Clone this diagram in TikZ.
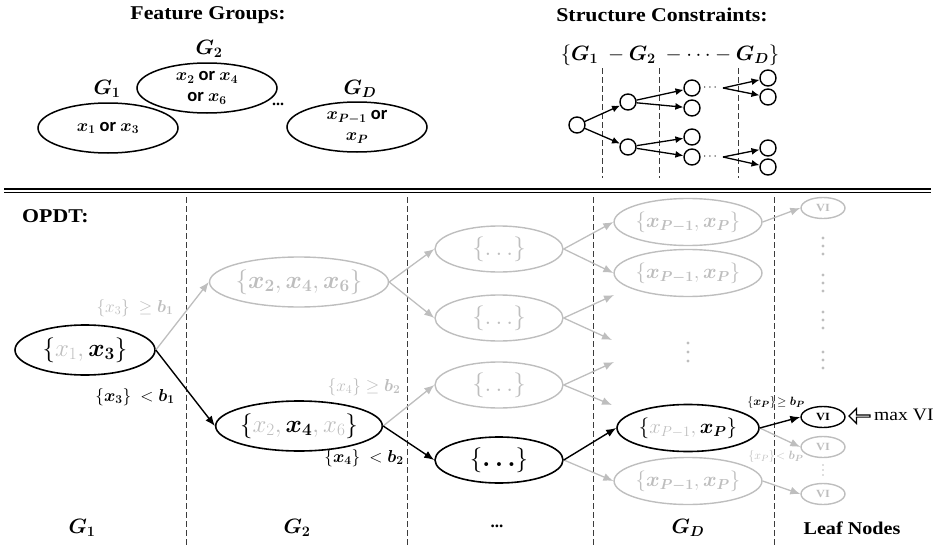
\documentclass[tikz,border=0pt]{standalone}
\usepackage[no-math]{fontspec}
\setmainfont{Liberation Serif}
\newfontfamily\cam[FakeStretch=1.12]{Liberation Serif}
\newfontfamily\calib{Carlito}
\usepackage{amsmath,bm}
\usetikzlibrary{arrows.meta,shapes.geometric,shapes.arrows}
\definecolor{lg}{RGB}{190,190,190}
\definecolor{dg}{RGB}{60,60,60}
\begin{document}
\begin{tikzpicture}[x=1pt,y=-1pt,
  every node/.style={inner sep=0pt},
  head/.style={font=\cam\bfseries\fontsize{19.5}{22}\selectfont},
  topell/.style={ellipse,draw=black,line width=1.5pt,minimum width=140pt,minimum height=50pt,align=center,font=\calib\bfseries\fontsize{18.5}{21}\selectfont},
  toplab/.style={font=\fontsize{19.5}{22}\selectfont},
  bn/.style={ellipse,draw=black,line width=1.6pt,font=\fontsize{23}{26}\selectfont},
  gn/.style={ellipse,draw=lg,text=lg,line width=1.4pt,font=\fontsize{23}{26}\selectfont},
  w1/.style={minimum width=140pt,minimum height=50pt},
  w2/.style={minimum width=161pt,minimum height=50pt},
  w3/.style={minimum width=128pt,minimum height=46pt},
  w4/.style={minimum width=142pt,minimum height=47pt,font=\fontsize{22}{25}\selectfont},
  vi/.style={ellipse,line width=1.4pt,minimum width=44pt,minimum height=21pt,font=\cam\bfseries\fontsize{11}{12}\selectfont},
  barr/.style={draw=black,line width=1.4pt,-{Latex[length=10pt,width=8pt]}},
  garr/.style={draw=lg,line width=1.3pt,-{Latex[length=10pt,width=8pt]}},
  sarr/.style={draw=black,line width=1.3pt,-{Latex[length=8pt,width=7pt]}},
  divider/.style={draw=dg,line width=0.9pt,dash pattern=on 6pt off 3pt},
  sc/.style={circle,draw=black,line width=1.4pt,minimum size=16pt},
  lab/.style={font=\fontsize{17}{19}\selectfont},
  slab/.style={font=\fontsize{12.5}{14}\selectfont},
  botlab/.style={font=\fontsize{22}{24}\selectfont}]
\useasboundingbox (0,0) rectangle (935,546);

% ---------- top: feature groups ----------
\node[head] (fg) at (208,15) {Feature Groups:};
\node[topell] (e1) at (108,128) {$\bm{x_1}$ or $\bm{x_3}$};
\node[toplab] (e1l) at (107,89) {$\bm{G_1}$};
\node[topell] (e2) at (207,88) {$\bm{x_2}$ or $\bm{x_4}$\\or $\bm{x_6}$};
\node[toplab] (e2l) at (209,49) {$\bm{G_2}$};
\node[font=\bfseries\fontsize{16}{18}\selectfont] (edots) at (278,104) {...};
\node[topell] (e3) at (357,127) {$\bm{x_{P-1}}$ or\\$\bm{x_P}$};
\node[toplab] (e3l) at (360,89) {$\bm{G_D}$};

% ---------- top: structure constraints ----------
\node[head] (sct) at (662,15) {Structure Constraints:};
\node[font=\fontsize{21}{23}\selectfont] (sf) at (670,55) {$\{\bm{G_1}\ -\bm{G_2}\ -\cdots-\bm{G_D}\}$};
\draw[divider] (602,68) -- (602,178);
\draw[divider] (659,68) -- (659,178);
\draw[divider] (738,68) -- (738,178);
\node[sc] (r) at (577,125) {};
\node[sc] (a1) at (628,102) {};
\node[sc] (a2) at (628,147) {};
\node[sc] (b1) at (692,88) {};
\node[sc] (b2) at (692,108) {};
\node[sc] (b3) at (692,137) {};
\node[sc] (b4) at (692,157) {};
\node[sc] (d1) at (768,78) {};
\node[sc] (d2) at (768,97) {};
\node[sc] (d3) at (768,148) {};
\node[sc] (d4) at (768,167) {};
\node[font=\fontsize{12}{12}\selectfont] (sd1) at (711,88) {$\cdots$};
\node[font=\fontsize{12}{12}\selectfont] (sd2) at (711,157) {$\cdots$};
\coordinate (s1) at (723,88);
\coordinate (s2) at (723,157);
\draw[sarr] (r) -- (a1);
\draw[sarr] (r) -- (a2);
\draw[sarr] (a1) -- (b1);
\draw[sarr] (a1) -- (b2);
\draw[sarr] (a2) -- (b3);
\draw[sarr] (a2) -- (b4);
\draw[sarr] (s1) -- (d1);
\draw[sarr] (s1) -- (d2);
\draw[sarr] (s2) -- (d3);
\draw[sarr] (s2) -- (d4);

% ---------- separator ----------
\draw[line width=2pt] (4,188.5) -- (931,188.5);
\draw[line width=1.2pt] (4,192.5) -- (931,192.5);

% ---------- OPDT ----------
\node[head,anchor=west] (opdt) at (22,216) {OPDT:};
\draw[divider] (186,197) -- (186,546);
\draw[divider] (407,197) -- (407,546);
\draw[divider] (593,197) -- (593,546);
\draw[divider] (774,197) -- (774,546);

\node[bn,w1] (n1) at (85,350) {$\{{\color{lg}x_1,}\,\bm{x_3}\}$};
\node[gn,w2] (g2a) at (299,282) {$\{\bm{x_2},\bm{x_4},\bm{x_6}\}$};
\node[bn,w2] (g2b) at (299,426) {$\{{\color{lg}x_2,}\,\bm{x_4}{\color{lg},x_6}\}$};
\node[gn,w3] (c3a) at (499,249) {$\{\ldots\}$};
\node[gn,w3] (c3b) at (499,318) {$\{\ldots\}$};
\node[gn,w3] (c3c) at (499,385) {$\{\ldots\}$};
\node[bn,w3] (c3d) at (499,460) {$\{\bm{\ldots}\}$};
\node[gn,w4] (c4a) at (688,222) {$\{\bm{x_{P-1}},\bm{x_P}\}$};
\node[gn,w4] (c4b) at (688,273) {$\{\bm{x_{P-1}},\bm{x_P}\}$};
\node[bn,w4] (c4c) at (688,428) {$\{{\color{lg}x_{P-1},}\,\bm{x_P}\}$};
\node[gn,w4] (c4d) at (688,481) {$\{\bm{x_{P-1}},\bm{x_P}\}$};

\node[vi,draw=lg,text=lg] (v1) at (823,208) {VI};
\node[vi,draw=black] (vb) at (823,417) {VI};
\node[vi,draw=lg,text=lg] (v2) at (823,447) {VI};
\node[vi,draw=lg,text=lg] (v3) at (823,494) {VI};

\coordinate (f1) at (614,295);
\coordinate (f2) at (612,340);
\coordinate (f3) at (614,362);
\coordinate (f4) at (612,405);

% dots
\foreach \yy in {343,352,361} \fill[lg] (688,\yy) circle (1.7pt);
\foreach \cy in {246,283,320,360}
  \foreach \dy in {-8,0,8} \fill[lg] (823,\cy+\dy) circle (1.6pt);
\foreach \dy in {-5,0,5} \fill[lg] (823,470+\dy) circle (0.9pt);

% gray arrows
\draw[garr] (n1.east) -- (g2a.west);
\draw[garr] (g2a.east) -- (c3a.west);
\draw[garr] (g2a.east) -- (c3b.west);
\draw[garr] (g2b.east) -- (c3c.west);
\draw[garr] (c3a.east) -- (c4a.west);
\draw[garr] (c3a.east) -- (c4b.west);
\draw[garr] (c3b.east) -- (f1);
\draw[garr] (c3b.east) -- (f2);
\draw[garr] (c3c.east) -- (f3);
\draw[garr] (c3c.east) -- (f4);
\draw[garr] (c3d.east) -- (c4d.west);
\draw[garr] (c4a.east) -- (v1.west);
\draw[garr] (c4c.east) -- (v2.west);
\draw[garr] (c4d.east) -- (v3.west);
% black arrows
\draw[barr] (n1.east) -- (g2b.west);
\draw[barr] (g2b.east) -- (c3d.west);
\draw[barr] (c3d.east) -- (c4c.west);
\draw[barr] (c4c.east) -- (vb.west);

% labels
\node[lab,text=lg] (l1) at (135,308) {$\{x_3\}\ \geq \bm{b_1}$};
\node[lab] (l2) at (135,397) {$\{\bm{x_3}\}\ < \bm{b_1}$};
\node[lab,text=lg] (l3) at (364,387) {$\{x_4\}\geq \bm{b_2}$};
\node[lab] (l4) at (364,458) {$\{\bm{x_4}\}\ < \bm{b_2}$};
\node[slab] (l5) at (776,402) {$\{\bm{x_P}\}\!\geq \bm{b_P}$};
\node[slab,text=lg] (l6) at (776,456) {$\{x_P\}\!< \bm{b_P}$};

% max VI
\node[single arrow,draw=black,line width=1.2pt,shape border rotate=180,minimum height=21pt,minimum width=15pt,single arrow head extend=3.5pt] (ha) at (860,416) {};
\node[anchor=west,font=\cam\fontsize{17.5}{20}\selectfont] (mv) at (874,415) {max VI};

% bottom labels
\node[botlab] (bg1) at (82,528) {$\bm{G_1}$};
\node[botlab] (bg2) at (297,528) {$\bm{G_2}$};
\node[font=\bfseries\fontsize{17}{20}\selectfont] (bg3) at (497,526) {...};
\node[botlab] (bg4) at (688,528) {$\bm{G_D}$};
\node[font=\cam\bfseries\fontsize{18}{20}\selectfont] (bg5) at (852,528) {Leaf Nodes};
\end{tikzpicture}
\end{document}
